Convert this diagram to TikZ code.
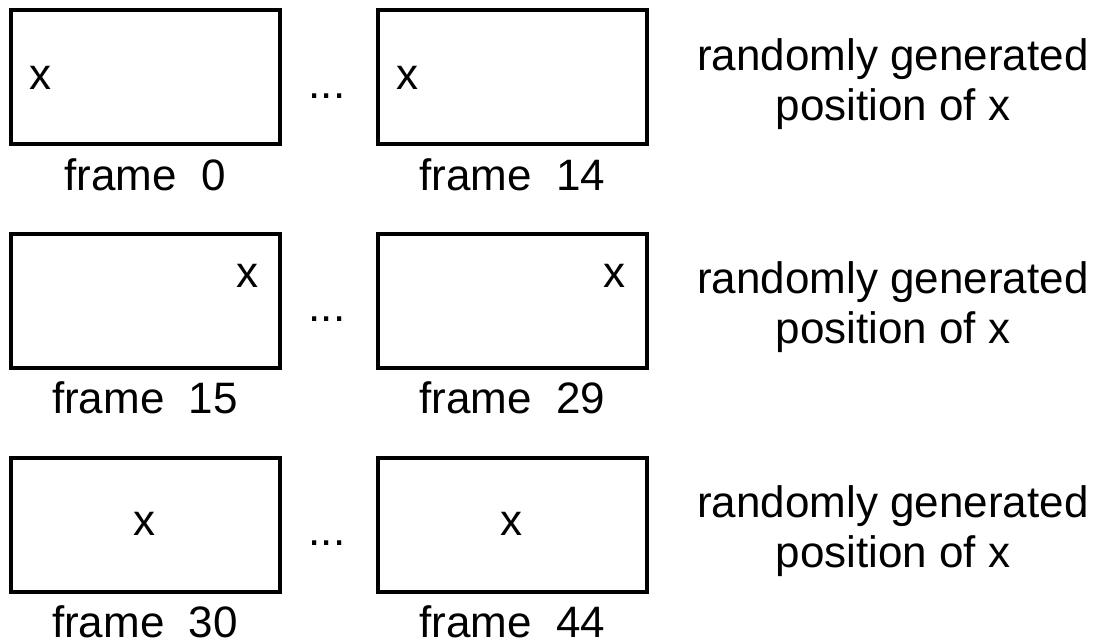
\documentclass[tikz,border=0pt]{standalone}
\usepackage{fontspec}
\setmainfont{Liberation Sans}
\usetikzlibrary{positioning}

\tikzset{
 framebox/.style={draw,line width=2pt,minimum width=134.5pt,minimum height=67pt,inner sep=0pt},
 lbl/.style={font=\fontsize{22}{25}\selectfont,inner sep=0pt},
 note/.style={lbl,align=center,anchor=north}
}

\begin{document}
\begin{tikzpicture}[x=0.5pt,y=-0.5pt]
 \useasboundingbox (0,0) rectangle (1097,639);
 % row 1
 \node[framebox] (f0) at (145,77) {};
 \node[framebox] (f14) at (512.5,77) {};
 \node[lbl,below=6pt of f0] (l0) {frame\ \ 0};
 \node[lbl,below=6pt of f14] (l14) {frame\ \ 14};
 \node[lbl] (x0) at (40,78) {x};
 \node[lbl] (x14) at (407,78) {x};
 \node[lbl,anchor=base] (d1) at (327,98) {...};
 \node[note] (n1) at (893,38) {randomly generated\\position of x};
 % row 2
 \node[framebox] (f15) at (145,300.5) {};
 \node[framebox] (f29) at (512.5,300.5) {};
 \node[lbl,below=6pt of f15] (l15) {frame\ \ 15};
 \node[lbl,below=6pt of f29] (l29) {frame\ \ 29};
 \node[lbl] (x15) at (247,276) {x};
 \node[lbl] (x29) at (614,276) {x};
 \node[lbl,anchor=base] (d2) at (327,321) {...};
 \node[note] (n2) at (893,261) {randomly generated\\position of x};
 % row 3
 \node[framebox] (f30) at (145,524.5) {};
 \node[framebox] (f44) at (512.5,524.5) {};
 \node[lbl,below=6pt of f30] (l30) {frame\ \ 30};
 \node[lbl,below=6pt of f44] (l44) {frame\ \ 44};
 \node[lbl] (x30) at (144,524) {x};
 \node[lbl] (x44) at (511,524) {x};
 \node[lbl,anchor=base] (d3) at (327,545) {...};
 \node[note] (n3) at (893,485) {randomly generated\\position of x};
\end{tikzpicture}
\end{document}
